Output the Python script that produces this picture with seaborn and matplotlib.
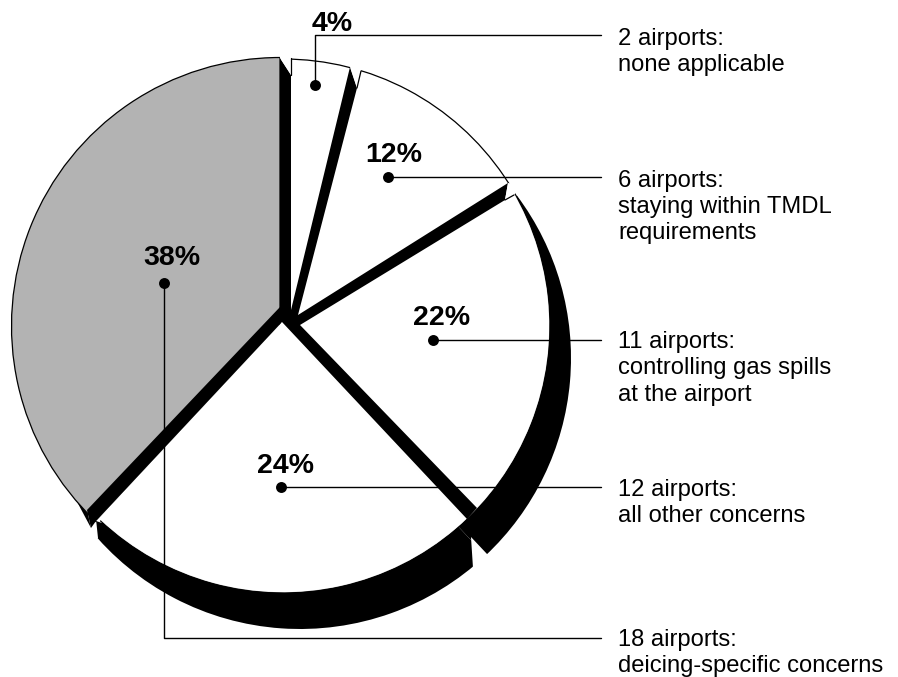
import matplotlib
matplotlib.use("Agg")
import matplotlib.pyplot as plt
import numpy as np
import seaborn as sns
from matplotlib.patches import Arc, Polygon, Wedge

# values
shares = [4, 12, 22, 24, 38]
airports = [2, 6, 11, 12, 18]
concerns = [
    "none applicable",
    "staying within TMDL\nrequirements",
    "controlling gas spills\nat the airport",
    "all other concerns",
    "deicing-specific concerns",
]

W, H = 898, 677


def up(points):
    # layout below is noted in image pixels, y pointing down
    return [(x, H - y) for x, y in points]


pie_c, pie_r = up([(283, 326)])[0], 267
grey_c, grey_r = up([(280, 326)])[0], 268.5
fills = ["white", "white", "white", "white", "#b3b3b3"]

# percent label centres, dots, elbows of the leader lines and text lines
pct_pos = up([(332, 24), (394, 155), (442, 318), (286, 466), (172, 258)])
dot_x = [315, 388, 433, 281, 164]
dot_y = [85, 177, 340, 487, 283]
leader_y = [35, 177, 340, 487, 638]
text_y = [28, 170, 331, 479, 629]

sns.set_theme(style="white")
plt.rcParams["font.family"] = ["Liberation Sans", "DejaVu Sans"]

fig = plt.figure(figsize=(W / 100, H / 100), dpi=100)
ax = fig.add_axes([0, 0, 1, 1])

# drop shadow: one disc behind the pie, cut by the two gaps
edges = 90 - 3.6 * np.cumsum([0] + shares)
sc, sr = up([(300, 358)])[0], 271
ax.add_patch(Wedge(sc, sr, edges[3], edges[2] + 4.4, fc="black", ec="none", zorder=1))
ax.add_patch(Wedge(sc, sr, edges[4] - 8, edges[3], fc="black", ec="none", zorder=1))
ax.add_patch(Polygon(up([(471, 537), (487, 554), (500, 575), (473, 568)]), fc="white", ec="none", zorder=2))
ax.add_patch(Polygon(up([(96, 519), (98, 538), (85, 548), (75, 525)]), fc="white", ec="none", zorder=2))

# sliver under the rim of the grey slice
ax.add_patch(Polygon(up([(58, 466), (87, 510), (91, 528)]), fc="black", ec="none", zorder=3))

# white edges close the seams, otherwise the shadow shows through between slices
# radius kept a bit short so the white stroke stays inside the black rim
wedges, _ = ax.pie(shares, startangle=90, counterclock=False, center=pie_c, radius=pie_r - 0.8,
                   colors=fills, wedgeprops=dict(edgecolor="white", linewidth=0.8, zorder=4))
# the grey slice sits a little further left than the rest
wedges[4].set_center(grey_c)
wedges[4].set_radius(grey_r)
wedges[4].set(edgecolor="black", linewidth=0.9, zorder=3.9)
ax.add_patch(Arc(pie_c, 2 * pie_r, 2 * pie_r, theta1=edges[4], theta2=90, color="black", lw=0.9, zorder=4.5))
# hides the grey stroke that peeks out below the gap
ax.add_patch(Polygon(up([(282, 322), (284, 328), (102, 523), (96, 521)]), fc="white", ec="none", zorder=4.2))

# black gaps between the slices
star = [(280, 58), (291, 75), (291, 310), (350, 67), (357, 88), (298, 315),
        (508, 183), (505, 200), (300, 325), (477, 508), (467, 519), (282, 322),
        (96, 521), (91, 528), (87, 510), (280, 307)]
ax.add_patch(Polygon(up(star), fc="black", ec="none", zorder=5))

# the rim is open where a gap reaches it
notches = [
    [(279, 48), (280, 58), (291, 75), (291, 48)],
    [(350, 58), (350, 67), (357, 88), (361, 71), (364, 60)],
    [(508, 183), (505, 200), (514, 195), (522, 185)],
]
for notch in notches:
    ax.add_patch(Polygon(up(notch), fc="white", ec="none", zorder=6))
for a, b in [((291, 58), (291, 75)), ((357, 88), (361, 71)), ((505, 200), (514, 195))]:
    ax.plot([a[0], b[0]], [H - a[1], H - b[1]], color="black", lw=0.9, zorder=6.5)

# leader lines
for i in range(5):
    if leader_y[i] == dot_y[i]:
        xs, ys = [dot_x[i], 601], [dot_y[i], dot_y[i]]
    else:
        xs, ys = [dot_x[i], dot_x[i], 601], [dot_y[i], leader_y[i], leader_y[i]]
    ax.plot(xs, [H - y for y in ys], color="black", lw=1.0, zorder=7)

sns.scatterplot(x=dot_x, y=[H - y for y in dot_y], color="black", s=62,
                linewidth=0, ax=ax, zorder=8)

for i, s in enumerate(shares):
    ax.text(pct_pos[i][0], pct_pos[i][1], f"{s}%", fontsize=20.5, fontweight="bold",
            ha="center", va="center", color="black", zorder=9)
    ax.text(618, H - text_y[i], f"{airports[i]} airports:\n{concerns[i]}", fontsize=17.15,
            ha="left", va="top", linespacing=1.25, color="black", zorder=9)

ax.set_xlim(0, W)
ax.set_ylim(0, H)
ax.set_aspect("auto")
ax.set_frame_on(False)
ax.set_xticks([])
ax.set_yticks([])
fig.savefig("out.png", dpi=100, facecolor="white")
